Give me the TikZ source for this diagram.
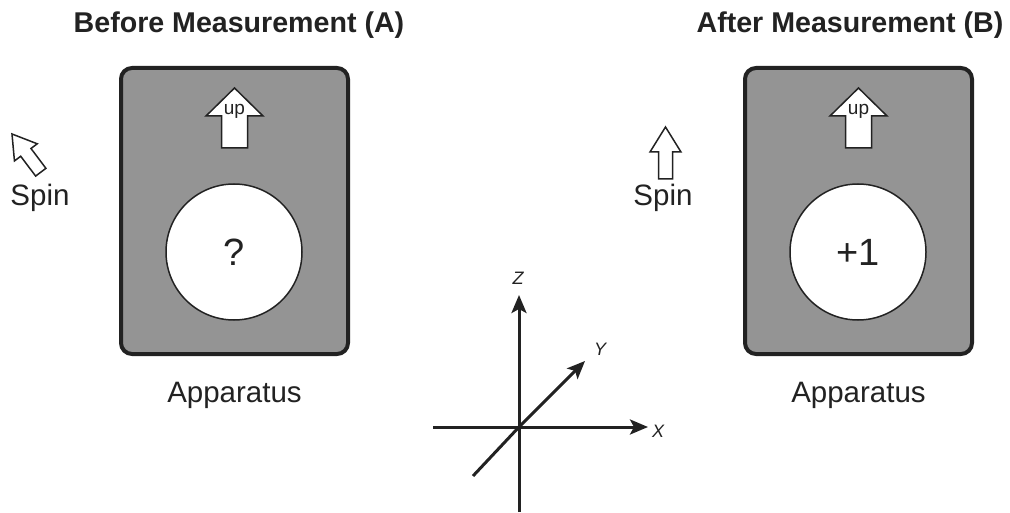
\documentclass[tikz,border=0pt]{standalone}
\usepackage{fontspec}
\setmainfont{Liberation Sans}
\usetikzlibrary{arrows.meta}
\definecolor{ink}{HTML}{222222}
\definecolor{boxgray}{HTML}{949494}
\tikzset{
  apparatus/.style={draw=ink, fill=boxgray, line width=4pt, rounded corners=11pt,
    minimum width=227pt, minimum height=286pt, inner sep=0pt},
  dial/.style={circle, draw=ink, fill=white, line width=1.5pt, minimum size=136pt,
    inner sep=0pt, text=ink, font=\fontsize{38}{42}\selectfont},
  title/.style={anchor=base, text=ink, font=\bfseries\fontsize{28.6}{32}\selectfont},
  caption/.style={anchor=base, text=ink, font=\fontsize{29.5}{33}\selectfont},
  axislabel/.style={text=ink, font=\itshape\fontsize{18}{20}\selectfont},
  axis/.style={draw=ink, line width=3pt, -{Stealth[length=18pt,width=15pt,inset=4pt]}},
  outline/.style={draw=ink, fill=white, line width=1.5pt, line join=miter},
  pics/bigup/.style={code={
    \draw[outline] (0,0) -- (28.5,28) -- (13,28) -- (13,60) -- (-13,60) -- (-13,28) -- (-28.5,28) -- cycle;
  }},
  pics/spinarrow/.style={code={
    \draw[outline] (0,0) -- (15.5,25) -- (7,25) -- (7,52) -- (-7,52) -- (-7,25) -- (-15.5,25) -- cycle;
  }},
}
\begin{document}
\begin{tikzpicture}[x=1pt,y=-1pt]
\useasboundingbox (0,0) rectangle (1010,513);

% titles
\node[title] (tA) at (239,33) {Before Measurement (A)};
\node[title] (tB) at (850,33) {After Measurement (B)};

% apparatus A
\node[apparatus] (boxA) at (234.5,211) {};
\pic at (234.5,88) {bigup};
\node[anchor=base, text=ink, font=\fontsize{19}{21}\selectfont] (upA) at (234.5,115) {up};
\node[dial] (dialA) at (234,252) {?};
\node[caption] (capA) at (234.5,402) {Apparatus};

% apparatus B
\node[apparatus] (boxB) at (858.5,211) {};
\pic at (858.5,88) {bigup};
\node[anchor=base, text=ink, font=\fontsize{19}{21}\selectfont] (upB) at (858.5,115) {up};
\node[dial] (dialB) at (858,252) {+1};
\node[caption] (capB) at (858.5,402) {Apparatus};

% spins
\pic[rotate=37, scale=0.92] at (12,134) {spinarrow};
\node[caption] (spinA) at (40,206) {Spin};
\pic at (665.5,127) {spinarrow};
\node[caption] (spinB) at (663,206) {Spin};

% axes
\coordinate (O) at (519,427);
\coordinate (zb) at (519,512);
\coordinate (zt) at (519,295);
\coordinate (xl) at (433,427);
\coordinate (xr) at (648,427);
\coordinate (yb) at (473,476);
\coordinate (yt) at (585,361);
\draw[draw=ink, line width=3pt] (zb) -- (O);
\draw[axis] (O) -- (zt);
\draw[draw=ink, line width=3pt] (xl) -- (O);
\draw[axis] (O) -- (xr);
\draw[draw=ink, line width=3pt] (yb) -- (O);
\draw[axis] (O) -- (yt);
\node[axislabel] (lz) at (518,278) {Z};
\node[axislabel] (ly) at (600,349) {Y};
\node[axislabel] (lx) at (658,431) {X};
\end{tikzpicture}
\end{document}
